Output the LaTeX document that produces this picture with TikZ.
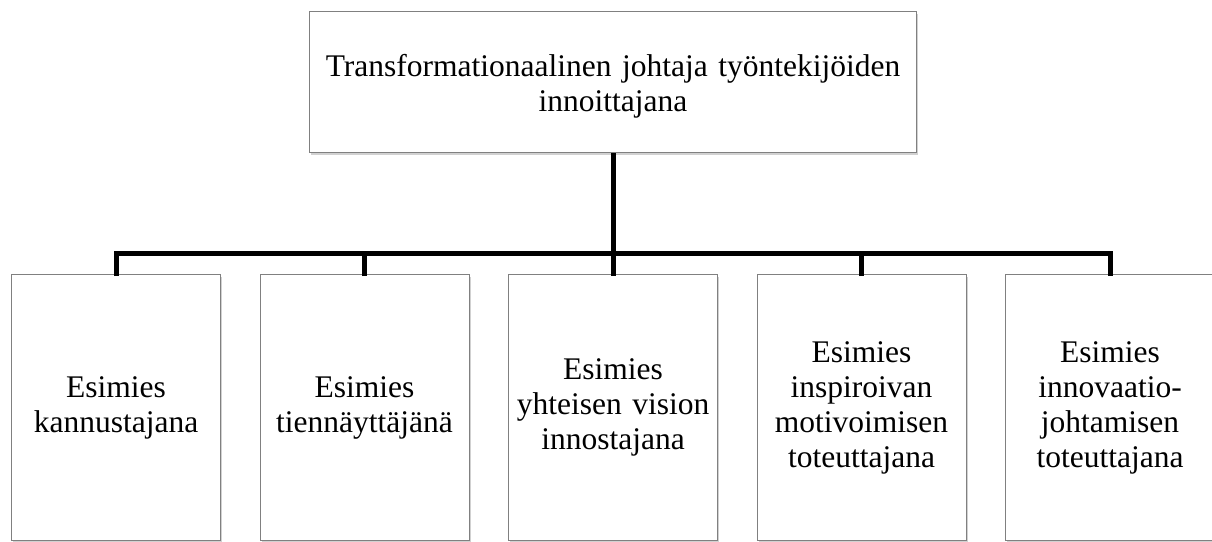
\documentclass[tikz,border=0pt]{standalone}
\usepackage{fontspec}
\setmainfont{Liberation Serif}
\usetikzlibrary{shadows}
\begin{document}
\begin{tikzpicture}[x=1pt,y=-1pt,
  box/.style={draw=black!50, line width=1.1pt, fill=white, anchor=north west,
    align=center, inner sep=0pt, font=\fontsize{31.5}{35}\selectfont,
    drop shadow={shadow xshift=1.5pt, shadow yshift=-2pt, fill=black, opacity=0.18}},
  leafbox/.style={box, minimum width=209pt, minimum height=266pt, text width=205pt},
  conn/.style={line width=5pt, black}]
  \useasboundingbox (0,0) rectangle (1212,541);
  % root
  \node[box, minimum width=607pt, minimum height=141pt, text width=600pt,
        text height=30pt] (top) at (309,11)
    {Transformationaalinen johtaja työntekijöiden\\innoittajana};
  % five role boxes
  \node[leafbox] (b1) at (11,274) {Esimies\\kannustajana};
  \node[leafbox] (b2) at (259.5,274) {Esimies\\tiennäyttäjänä};
  \node[leafbox] (b3) at (508,274) {Esimies\\yhteisen vision\\innostajana};
  \node[leafbox] (b4) at (756.5,274) {Esimies\\inspiroivan\\motivoimisen\\toteuttajana};
  \node[leafbox] (b5) at (1005,274) {Esimies\\innovaatio-\\johtamisen\\toteuttajana};
  % bus line
  \coordinate (bus) at (0,253);
  \draw[conn] (top.south) -- ([yshift=-2pt]b3.north);
  \draw[conn] ([yshift=-2pt]b1.north) |- (b5.north |- bus) -- ([yshift=-2pt]b5.north);
  \draw[conn] ([yshift=-2pt]b2.north) -- (b2.north |- bus);
  \draw[conn] ([yshift=-2pt]b4.north) -- (b4.north |- bus);
\end{tikzpicture}
\end{document}
